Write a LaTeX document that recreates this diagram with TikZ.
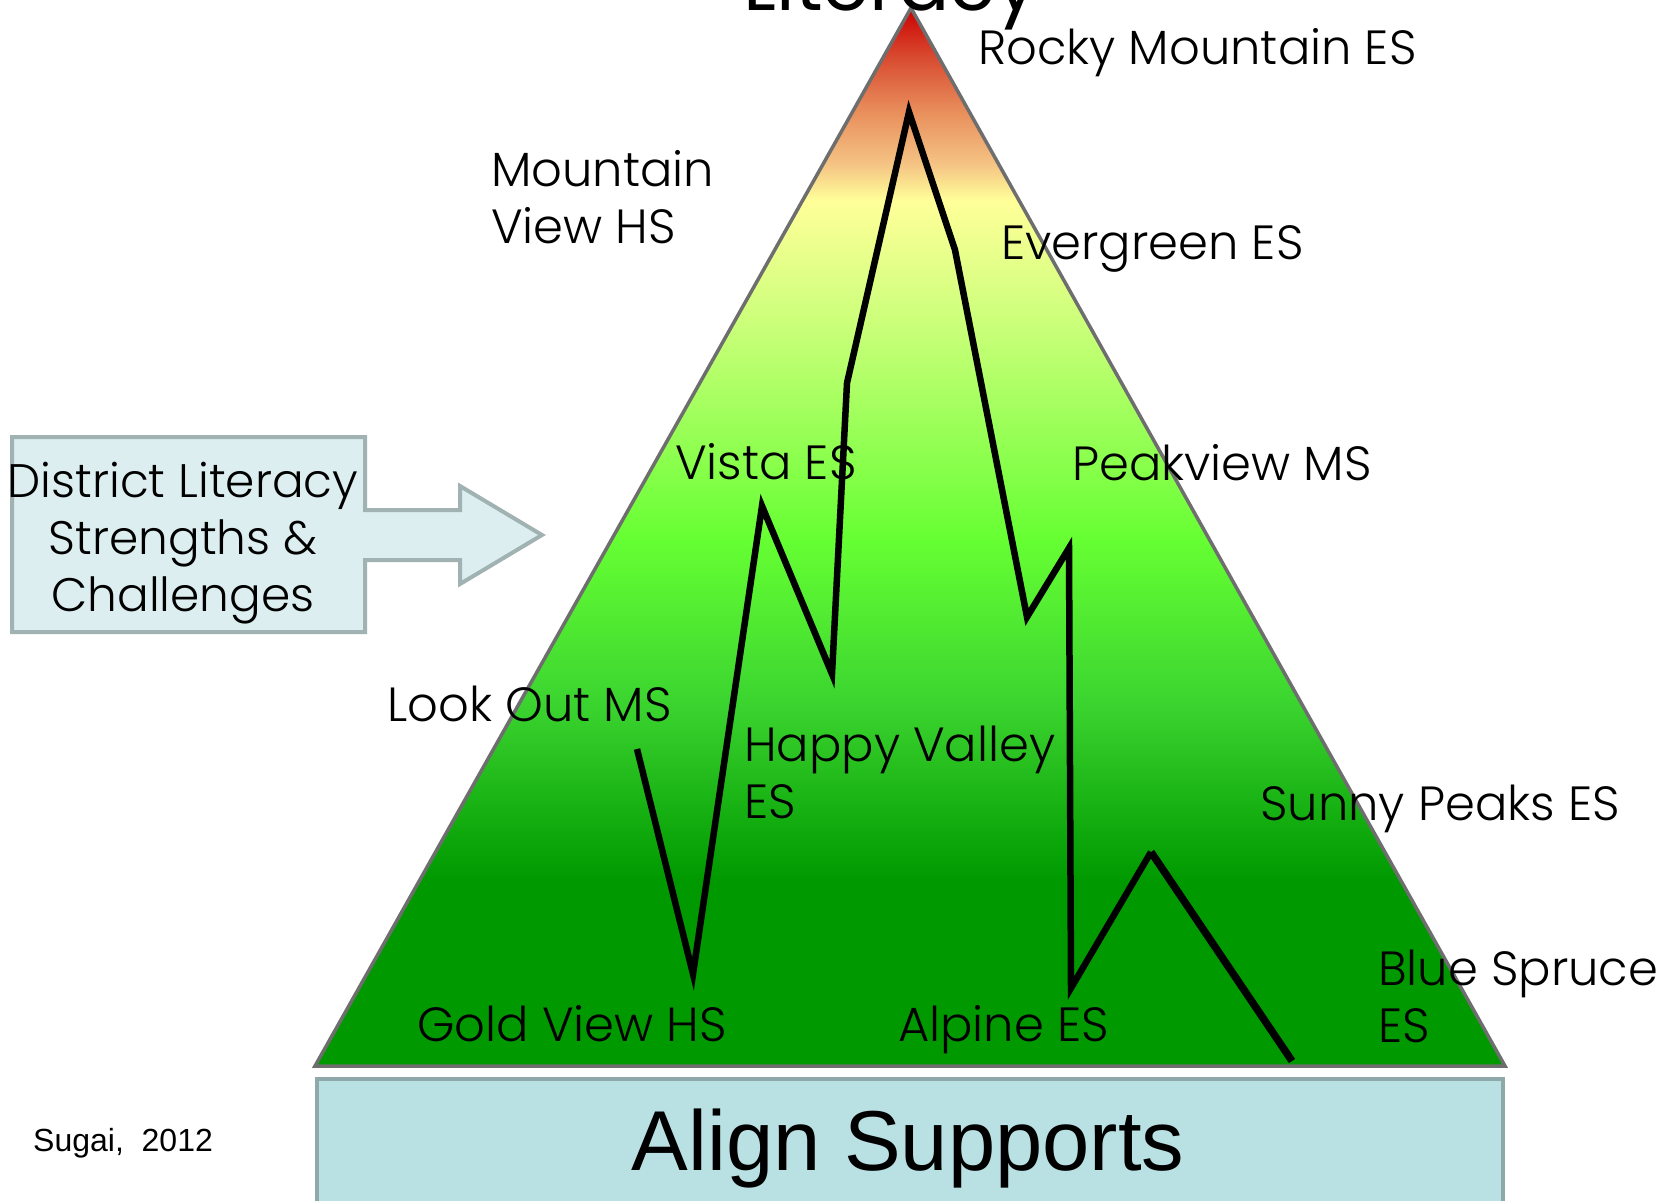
\documentclass[tikz,border=0pt]{standalone}
\usepackage{fontspec}
\setmainfont{Poppins Light}
\newfontfamily\titlefont{Poppins}
\newfontfamily\arialfont{Liberation Sans}

% colours of the peak, from the foot to the summit
\definecolor{pkFoot}{HTML}{009900}
\definecolor{pkLow}{HTML}{3CD530}
\definecolor{pkMid}{HTML}{66FF33}
\definecolor{pkHigh}{HTML}{C8FF78}
\definecolor{pkYellow}{HTML}{FFFF99}
\definecolor{pkPeach}{HTML}{F5C484}
\definecolor{pkOrange}{HTML}{E88C5A}
\definecolor{pkRust}{HTML}{D84A30}
\definecolor{pkTop}{HTML}{CC0000}
\definecolor{pkEdge}{HTML}{6E6E6E}
\definecolor{calloutFill}{HTML}{DCEEF0}
\definecolor{calloutEdge}{HTML}{A0B2B2}
\definecolor{barFill}{HTML}{B9E0E3}
\definecolor{barEdge}{HTML}{8FA8AA}

\pgfdeclareverticalshading{peakfill}{100bp}{%
  color(0bp)=(pkFoot); color(25bp)=(pkFoot); color(33.8bp)=(pkFoot);
  color(42.3bp)=(pkLow); color(49.9bp)=(pkMid); color(59.8bp)=(pkHigh);
  color(65.9bp)=(pkYellow); color(67.6bp)=(pkPeach); color(70.2bp)=(pkOrange);
  color(72.7bp)=(pkRust); color(75bp)=(pkTop); color(100bp)=(pkTop)}

\tikzset{
  school/.style={anchor=base west, inner sep=0pt, font=\fontsize{48}{57}\selectfont, align=left},
  ridge/.style={line width=6.5pt, line join=miter, black},
}

\begin{document}
\begin{tikzpicture}[x=1pt, y=-1pt]
\useasboundingbox (0,0) rectangle (1660,1200);
\clip (0,0) rectangle (1660,1200);

% the mountain
\coordinate (apex) at (911,8);
\coordinate (footL) at (315,1066);
\coordinate (footR) at (1505,1066);
\shade[shading=peakfill, draw=pkEdge, line width=3.5pt, line join=miter]
  (apex) -- (footL) -- (footR) -- cycle;

% title above the summit
\node[anchor=base, inner sep=0pt, font=\titlefont\fontsize{76}{76}\selectfont] (title) at (891,10) {Literacy};

% school-by-school literacy profile
\draw[ridge] (637,749) -- (693,974) -- (762,506) -- (832,674) -- (847,383)
  -- (909,112) -- (955,250) -- (1027,617) -- (1069,548) -- (1071,988)
  -- (1151,852);
\draw[ridge, line width=7.5pt] (1151,852) -- (1292,1061);

% school names
\node[school] (rocky) at (978,64) {Rocky Mountain ES};
\node[school, anchor=north west] (mview) at (491,150) {Mountain\\View HS};
\node[school] (evergreen) at (1001,259) {Evergreen ES};
\node[school] (vista) at (675,479) {Vista ES};
\node[school] (peakview) at (1072,480) {Peakview MS};
\node[school] (lookout) at (387,721) {Look Out MS};
\node[school, anchor=north west] (happy) at (744,726) {Happy Valley\\ES};
\node[school] (sunny) at (1260,820) {Sunny Peaks ES};
\node[school, anchor=north west] (spruce) at (1378,950) {Blue Spruce\\ES};
\node[school] (gold) at (417,1041) {Gold View HS};
\node[school] (alpine) at (898,1041) {Alpine ES};

% callout arrow pointing at the mountain
\draw[fill=calloutFill, draw=calloutEdge, line width=4pt, line join=miter]
  (12,437) -- (365,437) -- (365,510) -- (460,510) -- (460,486) -- (542,535)
  -- (460,584) -- (460,560) -- (365,560) -- (365,632) -- (12,632) -- cycle;
\node[inner sep=0pt, align=center, font=\fontsize{47}{57}\selectfont] (callout) at (183,543)
  {District Literacy\\Strengths \&\\Challenges};

% foundation bar
\node[draw=barEdge, fill=barFill, line width=4pt, minimum width=1186pt, minimum height=140pt,
  anchor=north west, inner sep=0pt] (bar) at (315,1077) {};
\node[anchor=base, inner sep=0pt, font=\arialfont\fontsize{85}{85}\selectfont] (align) at (908,1170) {Align Supports};

% credit
\node[anchor=base west, inner sep=0pt, font=\arialfont\fontsize{32}{32}\selectfont] (credit) at (33,1151) {Sugai,~ 2012};
\end{tikzpicture}
\end{document}
